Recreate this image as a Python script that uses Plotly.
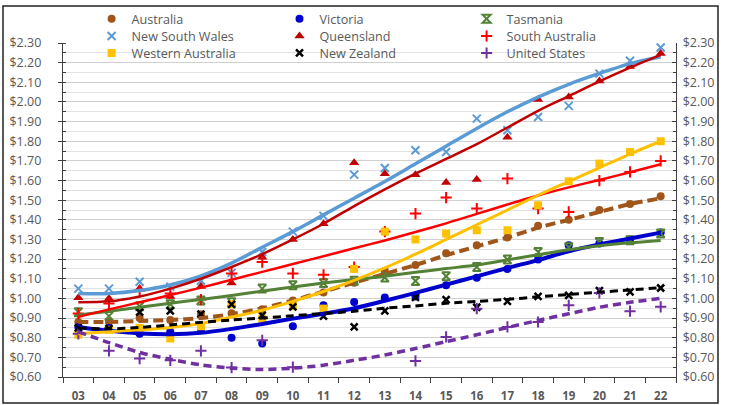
import plotly.graph_objects as go

# ---------------- data ----------------
years = ["03", "04", "05", "06", "07", "08", "09", "10", "11", "12",
         "13", "14", "15", "16", "17", "18", "19", "20", "21", "22"]

australia = [0.88, 0.88, 0.90, 0.89, 0.92, 0.925, 0.945, 0.99, 1.03, 1.08,
             1.14, 1.17, 1.23, 1.27, 1.31, 1.37, 1.40, 1.45, 1.48, 1.52]
australia_trend = [0.88, 0.88, 0.885, 0.89, 0.90, 0.92, 0.95, 0.99, 1.035, 1.08,
                   1.125, 1.17, 1.22, 1.265, 1.31, 1.36, 1.40, 1.44, 1.48, 1.51]

victoria = [0.855, 0.85, 0.82, 0.83, 0.84, 0.80, 0.77, 0.858, 0.965, 0.982,
            1.005, 1.01, 1.067, 1.105, 1.15, 1.198, 1.27, 1.28, 1.30, 1.335]
victoria_trend = [0.855, 0.835, 0.822, 0.818, 0.825, 0.845, 0.87, 0.897, 0.922, 0.95,
                  0.988, 1.028, 1.07, 1.112, 1.155, 1.195, 1.24, 1.275, 1.305, 1.335]

tasmania = [0.93, 0.91, 0.96, 0.97, 0.99, 0.98, 1.05, 1.067, 1.078, 1.09,
            1.106, 1.089, 1.113, 1.16, 1.198, 1.236, 1.26, 1.287, 1.296, 1.33]
tasmania_trend = [0.915, 0.935, 0.955, 0.975, 0.995, 1.015, 1.037, 1.058, 1.078, 1.096,
                  1.113, 1.133, 1.152, 1.17, 1.196, 1.222, 1.248, 1.268, 1.283, 1.295]

new_south_wales = [1.05, 1.05, 1.085, 1.06, 1.09, 1.13, 1.236, 1.34, 1.42, 1.63,
                   1.664, 1.754, 1.745, 1.915, 1.856, 1.923, 1.98, 2.144, 2.21, 2.277]
new_south_wales_trend = [1.025, 1.025, 1.04, 1.068, 1.115, 1.18, 1.26, 1.34, 1.425, 1.51,
                         1.595, 1.685, 1.775, 1.865, 1.95, 2.025, 2.09, 2.145, 2.195, 2.23]

queensland = [1.004, 1.0, 1.05, 1.01, 1.06, 1.079, 1.21, 1.30, 1.38, 1.69,
              1.635, 1.63, 1.59, 1.605, 1.82, 2.012, 2.025, 2.107, 2.18, 2.246]
queensland_trend = [0.98, 0.985, 1.01, 1.05, 1.10, 1.16, 1.225, 1.30, 1.38, 1.47,
                    1.555, 1.635, 1.71, 1.785, 1.87, 1.955, 2.03, 2.105, 2.175, 2.24]

south_australia = [0.923, 0.974, 1.04, 1.025, 0.994, 1.127, 1.185, 1.127, 1.12, 1.16,
                   1.34, 1.432, 1.513, 1.457, 1.61, 1.457, 1.44, 1.60, 1.644, 1.70]
south_australia_trend = [0.906, 0.944, 0.98, 1.017, 1.055, 1.095, 1.135, 1.175, 1.215, 1.255,
                         1.295, 1.338, 1.382, 1.43, 1.478, 1.524, 1.565, 1.603, 1.642, 1.683]

western_australia = [0.815, 0.84, 0.85, 0.796, 0.858, 0.97, 0.897, 0.96, 0.948, 1.15,
                     1.34, 1.30, 1.33, 1.347, 1.347, 1.474, 1.596, 1.686, 1.745, 1.80]
western_australia_trend = [0.82, 0.83, 0.84, 0.852, 0.872, 0.905, 0.94, 0.985, 1.035, 1.092,
                           1.155, 1.225, 1.30, 1.375, 1.45, 1.525, 1.595, 1.665, 1.735, 1.80]

new_zealand = [0.85, 0.846, 0.93, 0.936, 0.92, 0.97, 0.914, 0.957, 0.91, 0.855,
               0.936, 1.005, 0.994, 0.955, 0.985, 1.01, 1.016, 1.04, 1.033, 1.053]
new_zealand_trend = [0.85, 0.845, 0.852, 0.865, 0.878, 0.89, 0.90, 0.912, 0.923, 0.935,
                     0.95, 0.962, 0.975, 0.985, 0.995, 1.008, 1.02, 1.032, 1.043, 1.055]

united_states = [0.82, 0.733, 0.694, 0.685, 0.733, 0.648, 0.787, 0.65, None, None,
                 None, 0.682, 0.804, 0.948, 0.855, 0.88, 0.965, 1.028, 0.935, 0.957]
united_states_trend = [0.83, 0.775, 0.725, 0.69, 0.662, 0.645, 0.638, 0.645, 0.66, 0.685,
                       0.712, 0.745, 0.78, 0.815, 0.852, 0.888, 0.922, 0.955, 0.98, 1.0]

y_tick_values = [0.6, 0.7, 0.8, 0.9, 1.0, 1.1, 1.2, 1.3, 1.4, 1.5, 1.6, 1.7,
                 1.8, 1.9, 2.0, 2.1, 2.2, 2.3]
y_tick_labels = ["$%.2f" % v for v in y_tick_values]

# ---------------- geometry / style ----------------
W, H = 733, 405
L, R, T, B = 63, 57, 43, 28
PW, PH = W - L - R, H - T - B


def px_x(px):
    return (px - L) / PW


def px_y(py):
    return (H - B - py) / PH


xs = list(range(len(years)))
FONT = "Open Sans, Roboto, DejaVu Sans, sans-serif"
GREY = "#595959"
AXIS = "#404040"

# series order as in the original workbook (legend is row-major)
series = [
    ("Australia", australia, australia_trend,
     dict(color="#A0561A", symbol="circle", size=8, lw=0), dict(width=4, dash="10px,5px")),
    ("Victoria", victoria, victoria_trend,
     dict(color="#0000CC", symbol="circle", size=8, lw=0), dict(width=4, dash="solid")),
    ("Tasmania", tasmania, tasmania_trend,
     dict(color="#538135", symbol="hourglass-open", size=8, lw=2), dict(width=3, dash="solid")),
    ("New South Wales", new_south_wales, new_south_wales_trend,
     dict(color="#5B9BD5", symbol="x-thin-open", size=8, lw=2), dict(width=3.5, dash="solid")),
    ("Queensland", queensland, queensland_trend,
     dict(color="#C00000", symbol="triangle-up", size=9, lw=0), dict(width=2.5, dash="solid")),
    ("South Australia", south_australia, south_australia_trend,
     dict(color="#FF0000", symbol="cross-thin-open", size=8, lw=2), dict(width=2.5, dash="solid")),
    ("Western Australia", western_australia, western_australia_trend,
     dict(color="#FFC000", symbol="square", size=8, lw=0), dict(width=3, dash="solid")),
    ("New Zealand", new_zealand, new_zealand_trend,
     dict(color="#000000", symbol="x-thin-open", size=7, lw=2.5), dict(width=3, dash="8px,5px")),
    ("United States", united_states, united_states_trend,
     dict(color="#7030A0", symbol="cross-thin-open", size=8, lw=2), dict(width=3.5, dash="8px,5px")),
]

legend_text_x = [131.6, 319.5, 506.6]
legend_row_y = [19.0, 36.3, 53.3]

fig = go.Figure()

# markers
for i, (name, vals, trend, m, ln) in enumerate(series):
    fig.add_trace(go.Scatter(
        x=xs, y=vals, mode="markers", name=name,
        legend="legend" if i == 0 else f"legend{i + 1}",
        marker=dict(color=m["color"], symbol=m["symbol"], size=m["size"],
                    line=dict(color=m["color"], width=m["lw"])),
        hoverinfo="skip",
    ))

# trendlines
for i, (name, vals, trend, m, ln) in enumerate(series):
    fig.add_trace(go.Scatter(
        x=xs, y=trend, mode="lines", showlegend=False,
        line=dict(color=m["color"], width=ln["width"], dash=ln["dash"],
                  shape="spline", smoothing=0.8),
        hoverinfo="skip",
    ))

# dummy trace for right axis
fig.add_trace(go.Scatter(x=[None], y=[None], yaxis="y2", showlegend=False,
                         hoverinfo="skip"))

layout_legends = {}
for i, (name, *_rest) in enumerate(series):
    row, col = divmod(i, 3)
    key = "legend" if i == 0 else f"legend{i + 1}"
    layout_legends[key] = dict(
        x=px_x(legend_text_x[col] - 40), xanchor="left",
        y=px_y(legend_row_y[row]), yanchor="middle",
        bgcolor="rgba(0,0,0,0)", borderwidth=0,
        font=dict(family=FONT, size=12.6, color=GREY),
        itemclick=False, itemdoubleclick=False,
    )

yaxis_common = dict(
    range=[0.6, 2.3], tickmode="array", tickvals=y_tick_values, ticktext=y_tick_labels,
    tickfont=dict(family=FONT, size=12.5, color=GREY),
    showline=True, linecolor=AXIS, linewidth=1.3,
    zeroline=False, fixedrange=True,
)

fig.update_layout(
    width=W, height=H,
    margin=dict(l=L, r=R, t=T, b=B, pad=0, autoexpand=False),
    paper_bgcolor="white", plot_bgcolor="white",
    showlegend=True,
    xaxis=dict(
        range=[-0.5, len(years) - 0.5], tickmode="array", tickvals=xs, ticktext=years, ticks="",
        tickfont=dict(family=FONT, size=11.5, color=GREY, weight="bold"),
        ticklabelstandoff=8,
        showline=True, linecolor=AXIS, linewidth=1.3,
        showgrid=False, zeroline=False, fixedrange=True,
        minor=dict(tickvals=[x + 0.5 for x in range(-1, len(years))],
                   ticks="outside", ticklen=5, tickcolor=AXIS, showgrid=False),
    ),
    yaxis=dict(
        **yaxis_common, side="left",
        ticks="outside", ticklen=4, tickcolor=AXIS,
        ticklabelstandoff=14,
        showgrid=True, gridcolor="#D0D0D0", gridwidth=1.2,
        minor=dict(dtick=0.05, tick0=0.6, ticks="inside", ticklen=3, tickcolor=AXIS,
                   showgrid=True, gridcolor="#E2E2E2", gridwidth=1.2),
    ),
    yaxis2=dict(
        **yaxis_common, side="right", overlaying="y", anchor="x",
        ticks="inside", ticklen=4, tickcolor=AXIS,
        ticklabelstandoff=3, showgrid=False,
        minor=dict(dtick=0.05, tick0=0.6, ticks="inside", ticklen=3, tickcolor=AXIS),
    ),
    shapes=[dict(type="rect", xref="paper", yref="paper",
                 x0=px_x(3), x1=px_x(718), y0=px_y(403), y1=px_y(6),
                 line=dict(color="#222222", width=1.5), fillcolor="rgba(0,0,0,0)",
                 layer="above")],
    **layout_legends,
)

fig.write_html("out.html",
               config={"displayModeBar": False, "staticPlot": False},
               post_script="document.body.style.margin='0px';document.body.style.overflow='hidden';")
